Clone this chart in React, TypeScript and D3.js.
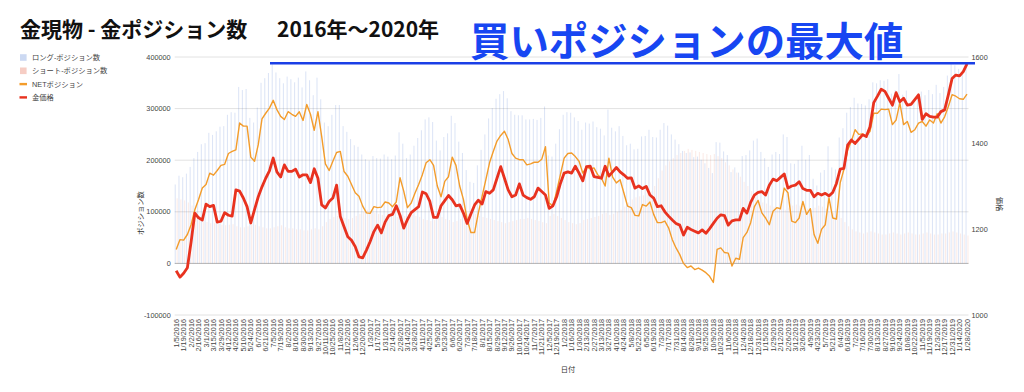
import React, {useRef, useEffect} from 'react'
import * as d3 from 'd3'

// weekly COT data, 1/5/2016 .. 1/28/2020 (values in thousands of contracts)
const netPositions = [
	27, 46, 45, 56, 75, 104, 124, 146, 153, 175,
	171, 180, 190, 192, 213, 217, 220, 272, 266, 266,
	206, 198, 230, 280, 291, 301, 316, 298, 285, 279,
	294, 289, 285, 294, 277, 308, 289, 258, 294, 246,
	193, 180, 198, 215, 217, 178, 169, 153, 137, 130,
	111, 98, 97, 110, 108, 109, 119, 117, 110, 119,
	166, 140, 108, 117, 136, 153, 172, 195, 201, 190,
	150, 129, 159, 168, 206, 190, 150, 124, 85, 60,
	60, 98, 130, 162, 195, 217, 237, 248, 256, 240,
	213, 204, 201, 201, 191, 193, 196, 196, 202, 226,
	117, 111, 140, 172, 204, 213, 214, 207, 198, 175,
	187, 183, 185, 172, 165, 150, 204, 167, 156, 162,
	137, 111, 108, 93, 92, 114, 111, 119, 95, 79,
	79, 82, 69, 46, 30, 17, 0, -8, -5, -12,
	-9, -13, -18, -25, -37, 27, 30, 21, 20, -5,
	10, 8, 50, 60, 79, 110, 122, 98, 88, 75,
	101, 108, 106, 146, 137, 82, 79, 88, 120, 95,
	106, 56, 39, 66, 75, 127, 88, 86, 156, 182,
	220, 237, 259, 250, 251, 246, 256, 291, 291, 299,
	298, 299, 269, 278, 311, 269, 275, 254, 259, 272,
	275, 266, 278, 272, 290, 272, 284, 304, 327, 324,
	319, 318, 328
]

const shortPositions = [
	126, 124, 122, 118, 112, 100, 92, 85, 80, 78,
	78, 76, 75, 74, 75, 76, 72, 70, 70, 72,
	76, 75, 72, 70, 68, 68, 70, 72, 74, 70,
	68, 68, 66, 66, 64, 64, 66, 68, 66, 72,
	80, 86, 90, 92, 90, 88, 86, 88, 92, 96,
	100, 104, 102, 98, 96, 94, 92, 90, 92, 90,
	88, 92, 96, 94, 92, 90, 86, 84, 82, 84,
	88, 90, 86, 84, 80, 82, 86, 90, 96, 98,
	96, 92, 90, 88, 86, 84, 82, 80, 78, 80,
	82, 84, 86, 86, 88, 86, 84, 82, 80, 78,
	92, 96, 92, 88, 84, 80, 78, 76, 78, 84,
	86, 88, 90, 92, 96, 98, 94, 96, 100, 104,
	110, 118, 124, 128, 130, 132, 136, 140, 150, 165,
	180, 190, 198, 204, 210, 214, 218, 222, 220, 218,
	216, 214, 212, 210, 212, 208, 204, 196, 190, 182,
	176, 168, 158, 150, 140, 128, 120, 118, 116, 112,
	110, 108, 106, 104, 108, 112, 114, 112, 108, 106,
	104, 108, 112, 110, 106, 100, 98, 96, 88, 80,
	72, 66, 62, 60, 58, 60, 62, 60, 58, 56,
	56, 58, 60, 58, 56, 58, 60, 58, 56, 56,
	58, 60, 58, 56, 56, 58, 58, 60, 62, 60,
	58, 56, 54
]

const longPositions = [
	153, 170, 167, 174, 187, 204, 216, 231, 233, 253,
	249, 256, 265, 266, 288, 293, 292, 342, 336, 338,
	282, 273, 302, 350, 359, 369, 386, 370, 359, 349,
	362, 357, 351, 360, 341, 372, 355, 326, 360, 318,
	273, 266, 288, 307, 307, 266, 255, 241, 229, 226,
	211, 202, 199, 208, 204, 203, 211, 207, 202, 209,
	254, 232, 204, 211, 228, 243, 258, 279, 283, 274,
	238, 219, 245, 252, 286, 272, 236, 214, 181, 158,
	156, 190, 220, 250, 281, 301, 319, 328, 334, 320,
	295, 288, 287, 287, 279, 279, 280, 278, 282, 304,
	209, 207, 232, 260, 288, 293, 292, 283, 276, 259,
	273, 271, 275, 264, 261, 248, 298, 263, 256, 266,
	247, 229, 232, 221, 222, 246, 247, 259, 245, 244,
	259, 272, 267, 250, 240, 231, 218, 214, 215, 206,
	207, 201, 194, 185, 175, 235, 234, 217, 210, 177,
	186, 176, 208, 210, 219, 238, 242, 216, 204, 187,
	211, 216, 212, 250, 245, 194, 193, 200, 228, 201,
	210, 164, 151, 176, 181, 227, 186, 182, 244, 262,
	292, 303, 321, 310, 309, 306, 318, 351, 349, 355,
	354, 357, 329, 336, 367, 327, 335, 312, 315, 328,
	333, 326, 336, 328, 346, 330, 342, 364, 389, 384,
	377, 374, 382
]

const goldPrice = [
	1103, 1088, 1097, 1110, 1170, 1237, 1226, 1221, 1258, 1252,
	1255, 1216, 1218, 1238, 1232, 1230, 1291, 1288, 1272, 1252,
	1214, 1245, 1275, 1298, 1318, 1335, 1365, 1333, 1321, 1349,
	1334, 1334, 1339, 1321, 1326, 1326, 1308, 1340, 1318, 1256,
	1249, 1264, 1272, 1302, 1229, 1205, 1182, 1174, 1159, 1135,
	1133, 1151, 1171, 1194, 1209, 1191, 1216, 1231, 1234, 1254,
	1232, 1202, 1222, 1238, 1245, 1252, 1286, 1282, 1264, 1227,
	1227, 1254, 1266, 1278, 1268, 1254, 1256, 1237, 1213, 1235,
	1256, 1267, 1258, 1287, 1283, 1291, 1318, 1345, 1318, 1291,
	1275, 1279, 1305, 1279, 1273, 1269, 1275, 1295, 1287, 1279,
	1248, 1254, 1275, 1306, 1330, 1333, 1330, 1346, 1330, 1312,
	1345, 1346, 1322, 1320, 1318, 1346, 1323, 1333, 1343, 1333,
	1326, 1318, 1319, 1295, 1300, 1294, 1299, 1279, 1272, 1252,
	1254, 1240, 1230, 1221, 1213, 1209, 1186, 1204, 1199, 1195,
	1191, 1198, 1190, 1201, 1213, 1225, 1233, 1231, 1209, 1219,
	1221, 1221, 1248, 1237, 1262, 1279, 1285, 1287, 1279, 1302,
	1316, 1312, 1320, 1328, 1295, 1300, 1302, 1310, 1294, 1290,
	1290, 1275, 1283, 1279, 1283, 1277, 1285, 1306, 1339, 1341,
	1395, 1407, 1399, 1409, 1419, 1415, 1438, 1494, 1509, 1525,
	1520, 1504, 1488, 1517, 1496, 1504, 1488, 1490, 1501, 1512,
	1455, 1468, 1462, 1460, 1460, 1473, 1477, 1512, 1550, 1558,
	1556, 1566, 1584
]

// every second week gets a label
const tickLabels = [
	'1/5/2016', '1/19/2016', '2/2/2016', '2/16/2016', '3/1/2016', '3/15/2016', '3/29/2016', '4/12/2016', '4/26/2016', '5/10/2016',
	'5/24/2016', '6/7/2016', '6/21/2016', '7/5/2016', '7/19/2016', '8/2/2016', '8/16/2016', '8/30/2016', '9/13/2016', '9/27/2016',
	'10/11/2016', '10/25/2016', '11/8/2016', '11/22/2016', '12/6/2016', '12/20/2016', '1/3/2017', '1/17/2017', '1/31/2017', '2/14/2017',
	'2/28/2017', '3/14/2017', '3/28/2017', '4/11/2017', '4/25/2017', '5/9/2017', '5/23/2017', '6/6/2017', '6/20/2017', '7/3/2017',
	'7/18/2017', '8/1/2017', '8/15/2017', '8/29/2017', '9/12/2017', '9/26/2017', '10/10/2017', '10/24/2017', '11/7/2017', '11/21/2017',
	'12/5/2017', '12/19/2017', '1/2/2018', '1/16/2018', '1/30/2018', '2/13/2018', '2/27/2018', '3/13/2018', '3/27/2018', '4/10/2018',
	'4/24/2018', '5/8/2018', '5/22/2018', '6/5/2018', '6/19/2018', '7/3/2018', '7/17/2018', '7/31/2018', '8/14/2018', '8/28/2018',
	'9/11/2018', '9/25/2018', '10/9/2018', '10/23/2018', '11/6/2018', '11/20/2018', '12/4/2018', '12/18/2018', '12/31/2018', '1/15/2019',
	'1/29/2019', '2/12/2019', '2/26/2019', '3/12/2019', '3/26/2019', '4/9/2019', '4/23/2019', '5/7/2019', '5/21/2019', '6/4/2019',
	'6/18/2019', '7/2/2019', '7/16/2019', '7/30/2019', '8/13/2019', '8/27/2019', '9/10/2019', '9/24/2019', '10/8/2019', '10/22/2019',
	'11/5/2019', '11/19/2019', '12/3/2019', '12/17/2019', '12/31/2019', '1/14/2020', '1/28/2020'
]

const leftTicks = [-100, 0, 100, 200, 300, 400]
const rightTicks = [1000, 1200, 1400, 1600]

const legendItems = [
	{name: 'ロング-ポジション数', type: 'box', color: '#3366cc'},
	{name: 'ショート-ポジション数', type: 'box', color: '#dc3912'},
	{name: 'NETポジション', type: 'line', color: '#f39c2b'},
	{name: '金価格', type: 'line', color: '#e8321f'}
]

const FONT = '"Liberation Sans", Arial, "Noto Sans CJK JP", sans-serif'
const JP = '"Noto Sans CJK JP", sans-serif'

export default function App() {
	const ref = useRef(null)
	const layout = {width: 1024, height: 392, left: 174.7, right: 968.5, top: 57, bottom: 315}

	useEffect(() => {
		const svg = d3.select(ref.current)
		svg.selectAll('*').remove()

		const idx = d3.range(goldPrice.length)
		const x = d3.scaleBand().domain(idx).range([layout.left, layout.right]).paddingInner(0.2)
		const sub = d3.scaleBand().domain(['long', 'short']).range([0, x.bandwidth()]).paddingInner(0.45)
		const yL = d3.scaleLinear().domain([-100, 400]).range([layout.bottom, layout.top])
		const yR = d3.scaleLinear().domain([1000, 1600]).range([layout.bottom, layout.top])
		const cx = i => x(i) + x.bandwidth() / 2

		// gridlines
		svg.append('g').selectAll('line')
			.data(leftTicks)
			.join('line')
			.attr('x1', layout.left).attr('x2', layout.right)
			.attr('y1', d => yL(d)).attr('y2', d => yL(d))
			.attr('stroke', d => d === 0 ? '#b5b5b5' : '#e2e2e2')
			.attr('stroke-width', 1)

		// bars
		const bars = svg.append('g')
		bars.selectAll('.long')
			.data(longPositions)
			.join('rect')
			.attr('class', 'long')
			.attr('x', (d, i) => x(i) + sub('long'))
			.attr('width', sub.bandwidth())
			.attr('y', d => Math.min(yL(d), yL(0)))
			.attr('height', d => Math.abs(yL(d) - yL(0)))
			.attr('fill', '#3366cc')
			.attr('opacity', 0.17)
		bars.selectAll('.short')
			.data(shortPositions)
			.join('rect')
			.attr('class', 'short')
			.attr('x', (d, i) => x(i) + sub('short'))
			.attr('width', sub.bandwidth())
			.attr('y', d => Math.min(yL(d), yL(0)))
			.attr('height', d => Math.abs(yL(d) - yL(0)))
			.attr('fill', '#dc3912')
			.attr('opacity', 0.1)

		// lines
		const netLine = d3.line().x((d, i) => cx(i)).y(d => yL(d))
		svg.append('path')
			.attr('d', netLine(netPositions))
			.attr('fill', 'none')
			.attr('stroke', '#f39c2b')
			.attr('stroke-width', 1.4)
			.attr('stroke-linejoin', 'round')

		const priceLine = d3.line().x((d, i) => cx(i)).y(d => yR(d))
		svg.append('path')
			.attr('d', priceLine(goldPrice))
			.attr('fill', 'none')
			.attr('stroke', '#e8321f')
			.attr('stroke-width', 2.8)
			.attr('stroke-linejoin', 'round')

		// left axis
		svg.append('g').selectAll('text')
			.data(leftTicks)
			.join('text')
			.attr('x', layout.left - 4)
			.attr('y', d => yL(d))
			.attr('dy', '0.35em')
			.attr('text-anchor', 'end')
			.attr('font-size', 7.3)
			.attr('fill', '#444')
			.attr('font-family', FONT)
			.text(d => d * 1000)

		// right axis
		svg.append('g').selectAll('text')
			.data(rightTicks)
			.join('text')
			.attr('x', layout.right + 3)
			.attr('y', d => yR(d))
			.attr('dy', '0.35em')
			.attr('text-anchor', 'start')
			.attr('font-size', 7.3)
			.attr('fill', '#444')
			.attr('font-family', FONT)
			.text(d => d)

		// x labels
		svg.append('g').selectAll('text')
			.data(tickLabels)
			.join('text')
			.attr('transform', (d, k) => `translate(${cx(k * 2)}, ${layout.bottom + 4}) rotate(-90)`)
			.attr('dy', '0.35em')
			.attr('text-anchor', 'end')
			.attr('font-size', 7.3)
			.attr('fill', '#444')
			.attr('font-family', FONT)
			.text(d => d)

		// axis titles
		svg.append('text')
			.attr('transform', `translate(140, 213) rotate(-90)`)
			.attr('text-anchor', 'middle').attr('dy', '0.35em')
			.attr('font-size', 7.3).attr('fill', '#333').attr('font-family', JP)
			.text('ポジション数')
		svg.append('text')
			.attr('transform', `translate(1000, 204) rotate(90)`)
			.attr('text-anchor', 'middle').attr('dy', '0.35em')
			.attr('font-size', 7.3).attr('fill', '#333').attr('font-family', JP)
			.text('価格')
		svg.append('text')
			.attr('x', 568).attr('y', 369)
			.attr('text-anchor', 'middle').attr('dy', '0.35em')
			.attr('font-size', 7.3).attr('fill', '#333').attr('font-family', JP)
			.text('日付')

		// legend
		const lg = svg.append('g').selectAll('g')
			.data(legendItems)
			.join('g')
			.attr('transform', (d, i) => `translate(20, ${57.5 + i * 13.3})`)
		lg.filter(d => d.type === 'box').append('rect')
			.attr('x', 0).attr('y', -3.3).attr('width', 6.6).attr('height', 6.6)
			.attr('fill', d => d.color).attr('opacity', 0.25)
		lg.filter(d => d.type === 'line').append('rect')
			.attr('x', -0.5).attr('y', -1.2).attr('width', 7.5).attr('height', 2.4)
			.attr('fill', d => d.color)
		lg.append('text')
			.attr('x', 12).attr('dy', '0.35em')
			.attr('font-size', 7.3).attr('fill', '#444').attr('font-family', FONT)
			.text(d => d.name)

		// max long position marker
		svg.append('line')
			.attr('x1', 270).attr('x2', 975)
			.attr('y1', yL(d3.max(longPositions)) + 0.5).attr('y2', yL(d3.max(longPositions)) + 0.5)
			.attr('stroke', '#1a3fe6')
			.attr('stroke-width', 2.4)

	}, [])

	return (
		<div style={{position: 'absolute', left: 0, top: 0}}>
			<svg width={layout.width} height={layout.height} ref={ref} style={{display: 'block'}} />
			<svg width={layout.width} height={layout.height} style={{position: 'absolute', left: 0, top: 0}}>
				<text x={20} y={37} fontSize={21} fontWeight={700} fontFamily={JP} fill='#111'>金現物 - 金ポジション数</text>
				<text x={277} y={37} fontSize={21} fontWeight={700} fontFamily={JP} fill='#111'>2016年〜2020年</text>
				<text x={470} y={56} fontSize={39.4} fontWeight={700} fontFamily={JP} fill='#1746f2'>買いポジションの最大値</text>
			</svg>
		</div>
	)
}
